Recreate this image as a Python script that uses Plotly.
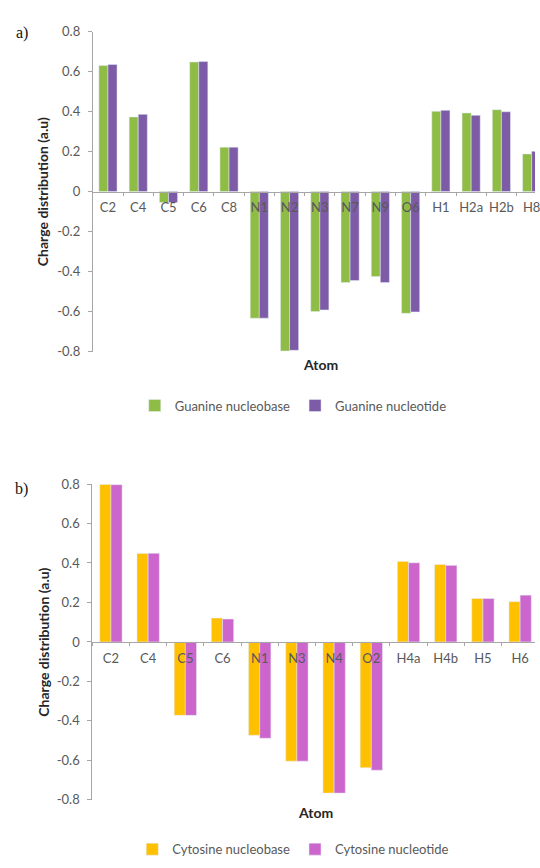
import plotly.graph_objects as go

# Guanine: atom labels and Mulliken-type charges (a.u)
guanine_atoms = ["C2", "C4", "C5", "C6", "C8", "N1", "N2", "N3", "N7", "N9", "O6",
                 "H1", "H2a", "H2b", "H8"]
guanine_base = [0.630, 0.373, -0.055, 0.648, 0.222, -0.633, -0.797, -0.600, -0.455,
                -0.425, -0.609, 0.401, 0.393, 0.409, 0.188]
guanine_nucleotide = [0.635, 0.386, -0.055, 0.650, 0.222, -0.633, -0.794, -0.592,
                      -0.445, -0.455, -0.602, 0.406, 0.381, 0.399, 0.201]

# Cytosine: atom labels and charges (a.u)
cytosine_atoms = ["C2", "C4", "C5", "C6", "N1", "N3", "N4", "O2", "H4a", "H4b", "H5", "H6"]
cytosine_base = [0.798, 0.448, -0.372, 0.121, -0.473, -0.604, -0.766, -0.637,
                 0.408, 0.392, 0.220, 0.204]
cytosine_nucleotide = [0.797, 0.449, -0.372, 0.116, -0.488, -0.604, -0.766, -0.650,
                       0.401, 0.388, 0.220, 0.237]

y_ticks = [0.8, 0.6, 0.4, 0.2, 0, -0.2, -0.4, -0.6, -0.8]
y_tick_text = ["0.8", "0.6", "0.4", "0.2", "0", "-0.2", "-0.4", "-0.6", "-0.8"]

W, H = 540, 868
FONT = "Lato, 'Open Sans', sans-serif"
TXT = "#595959"
AX = "#a6a6a6"

Y_RANGE = [-0.8, 0.8]
top_dom = [1 - 350 / H, 1 - 24 / H]
bot_dom = [1 - 806.7 / H, 1 - 485 / H]


def zero_pos(dom):
    # paper position of y = 0 inside a vertical domain
    return dom[0] + (0 - Y_RANGE[0]) / (Y_RANGE[1] - Y_RANGE[0]) * (dom[1] - dom[0])


fig = go.Figure()

fig.add_trace(go.Bar(x=guanine_atoms, y=guanine_base, name="Guanine nucleobase",
                     marker_color="#8fbc45", xaxis="x", yaxis="y", legend="legend"))
fig.add_trace(go.Bar(x=guanine_atoms, y=guanine_nucleotide, name="Guanine nucleotide",
                     marker_color="#7d5ba6", xaxis="x", yaxis="y", legend="legend"))
fig.add_trace(go.Bar(x=cytosine_atoms, y=cytosine_base, name="Cytosine nucleobase",
                     marker_color="#ffc000", xaxis="x2", yaxis="y2", legend="legend2"))
fig.add_trace(go.Bar(x=cytosine_atoms, y=cytosine_nucleotide, name="Cytosine nucleotide",
                     marker_color="#cc66cc", xaxis="x2", yaxis="y2", legend="legend2"))

xcommon = dict(showline=True, linecolor=AX, linewidth=1, ticks="outside", ticklen=3,
               tickcolor=AX, tickson="boundaries", showgrid=False, zeroline=False,
               tickfont=dict(family=FONT, size=13, color=TXT), ticklabelstandoff=4,
               tickangle=0, anchor="free", type="category")
ycommon = dict(showline=True, linecolor=AX, linewidth=1, ticks="outside", ticklen=4,
               tickcolor=AX, showgrid=False, zeroline=False, range=Y_RANGE,
               tickvals=y_ticks, ticktext=y_tick_text, ticklabelstandoff=5,
               tickfont=dict(family=FONT, size=13, color=TXT))

legend_common = dict(orientation="h", xanchor="center", yanchor="middle",
                     font=dict(family=FONT, size=13, color=TXT),
                     itemwidth=30, bgcolor="rgba(0,0,0,0)")

fig.update_layout(
    width=W, height=H,
    margin=dict(l=0, r=0, t=0, b=0),
    paper_bgcolor="white", plot_bgcolor="white",
    barmode="group", bargap=0.4, bargroupgap=0,
    xaxis=dict(xcommon, domain=[93.7 / W, 1], range=[-0.5, 14.11],
               position=zero_pos(top_dom)),
    yaxis=dict(ycommon, domain=top_dom, anchor="x"),
    xaxis2=dict(xcommon, domain=[93.2 / W, 1], range=[-0.5, 11.4],
                position=zero_pos(bot_dom)),
    yaxis2=dict(ycommon, domain=bot_dom, anchor="x2"),
    legend=dict(legend_common, x=296 / W, y=1 - 405 / H),
    legend2=dict(legend_common, x=296 / W, y=1 - 857 / H),
)

title_font = dict(family=FONT, size=14, color="#262626")
panel_font = dict(family="'Liberation Serif', 'DejaVu Serif', serif", size=16, color="#111")
annots = [
    dict(text="<b>Charge distribution (a.u)</b>", x=43 / W, y=1 - 187 / H, textangle=-90,
         font=title_font),
    dict(text="<b>Charge distribution (a.u)</b>", x=43 / W, y=1 - 646 / H, textangle=-90,
         font=title_font),
    dict(text="<b>Atom</b>", x=323 / W, y=1 - 363 / H, font=title_font),
    dict(text="<b>Atom</b>", x=318 / W, y=1 - 820 / H, font=title_font),
    dict(text="a)", x=22 / W, y=1 - 25 / H, font=panel_font),
    dict(text="b)", x=22 / W, y=1 - 490 / H, font=panel_font),
]
for a in annots:
    fig.add_annotation(xref="paper", yref="paper", showarrow=False,
                       xanchor="center", yanchor="middle", **a)

fig.write_html("out.html")
